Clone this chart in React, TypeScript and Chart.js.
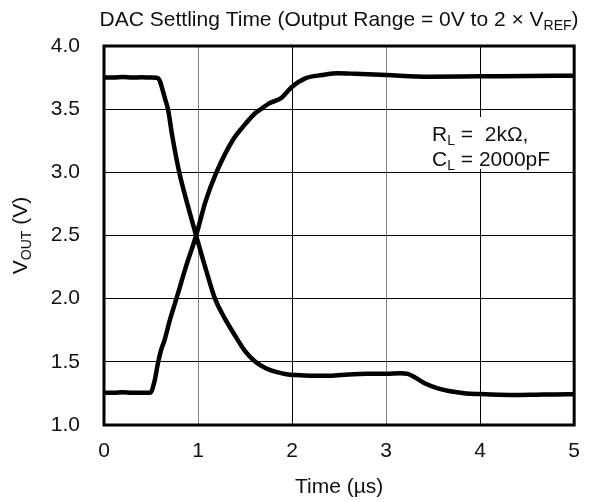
import React, { useEffect, useRef } from "react";
import { Chart, registerables } from "chart.js";

Chart.register(...registerables);

const xTicks = [0, 1, 2, 3, 4, 5];
const yTicks = [1.0, 1.5, 2.0, 2.5, 3.0, 3.5, 4.0];

const timeFall = [0, 0.1, 0.2, 0.3, 0.4, 0.5, 0.56, 0.59, 0.62, 0.65, 0.68, 0.73, 0.8, 0.89, 0.98, 1.08, 1.18, 1.28, 1.4, 1.5, 1.61, 1.72, 1.83, 1.94, 2.04, 2.2, 2.4, 2.6, 2.8, 3.0, 3.15, 3.23, 3.3, 3.41, 3.55, 3.7, 3.85, 4.0, 4.2, 4.4, 4.6, 4.8, 5.0];
const voltFall = [3.75, 3.75, 3.755, 3.75, 3.752, 3.75, 3.748, 3.73, 3.66, 3.58, 3.5, 3.27, 3.0, 2.74, 2.5, 2.24, 2.0, 1.85, 1.7, 1.585, 1.5, 1.45, 1.42, 1.402, 1.395, 1.39, 1.39, 1.4, 1.405, 1.405, 1.41, 1.405, 1.38, 1.33, 1.29, 1.265, 1.25, 1.245, 1.24, 1.238, 1.24, 1.242, 1.243];

const timeRise = [0, 0.1, 0.2, 0.3, 0.4, 0.48, 0.5, 0.54, 0.574, 0.61, 0.644, 0.7, 0.77, 0.87, 0.98, 1.08, 1.19, 1.37, 1.5, 1.61, 1.67, 1.755, 1.88, 2.0, 2.14, 2.32, 2.49, 2.67, 3.0, 3.45, 4.0, 4.5, 5.0];
const voltRise = [1.255, 1.255, 1.26, 1.255, 1.255, 1.255, 1.26, 1.355, 1.49, 1.6, 1.672, 1.83, 2.0, 2.25, 2.5, 2.77, 2.99, 3.256, 3.38, 3.47, 3.5, 3.546, 3.586, 3.678, 3.744, 3.77, 3.784, 3.78, 3.77, 3.757, 3.76, 3.762, 3.765];

const FONT = "'Liberation Sans', Arial, sans-serif";
const FS = 21;

function drawSub(ctx: CanvasRenderingContext2D, parts: [string, boolean][], x: number, y: number, size: number, align: "center" | "left") {
  const subSize = Math.round(size * 0.68);
  let total = 0;
  for (const [t, sub] of parts) {
    ctx.font = `${sub ? subSize : size}px ${FONT}`;
    total += ctx.measureText(t).width;
  }
  let cx = align === "center" ? x - total / 2 : x;
  ctx.textAlign = "left";
  ctx.textBaseline = "alphabetic";
  for (const [t, sub] of parts) {
    ctx.font = `${sub ? subSize : size}px ${FONT}`;
    ctx.fillText(t, cx, sub ? y + size * 0.2 : y);
    cx += ctx.measureText(t).width;
  }
}

const gridMaskPlugin = {
  id: "gridMask",
  beforeDatasetsDraw(chart: any) {
    const { ctx } = chart;
    ctx.save();
    ctx.fillStyle = "#fff";
    ctx.fillRect(428, 117, 128, 52);
    ctx.restore();
  },
};

const decorPlugin = {
  id: "decor",
  afterDraw(chart: any) {
    const { ctx, chartArea } = chart;
    const { left, right, top, bottom } = chartArea;
    ctx.save();
    ctx.strokeStyle = "#000";
    ctx.lineWidth = 3;
    ctx.strokeRect(left, top, right - left, bottom - top);
    ctx.fillStyle = "#111";
    drawSub(ctx, [["DAC Settling Time (Output Range = 0V to 2 × V", false], ["REF", true], [")", false]], (left + right) / 2, 26, FS, "center");
    drawSub(ctx, [["Time (µs)", false]], (left + right) / 2, 493, FS, "center");
    drawSub(ctx, [["R", false], ["L", true], [" =  2kΩ,", false]], 432, 141, FS, "left");
    drawSub(ctx, [["C", false], ["L", true], [" = 2000pF", false]], 432, 166, FS, "left");
    ctx.translate(27, (top + bottom) / 2);
    ctx.rotate(-Math.PI / 2);
    drawSub(ctx, [["V", false], ["OUT", true], [" (V)", false]], 0, 0, FS, "center");
    ctx.restore();
  },
};

export default function App() {
  const ref = useRef<HTMLCanvasElement>(null);
  useEffect(() => {
    if (!ref.current) return;
    const chart = new Chart(ref.current, {
      type: "scatter",
      data: {
        datasets: [
          {
            data: timeFall.map((t, i) => ({ x: t, y: voltFall[i] })),
            showLine: true,
            borderColor: "#000",
            borderWidth: 4.5,
            pointRadius: 0,
            cubicInterpolationMode: "monotone",
          },
          {
            data: timeRise.map((t, i) => ({ x: t, y: voltRise[i] })),
            showLine: true,
            borderColor: "#000",
            borderWidth: 4.5,
            pointRadius: 0,
            cubicInterpolationMode: "monotone",
          },
        ],
      },
      options: {
        animation: false,
        responsive: false,
        layout: { padding: { left: 0, right: 17, top: 46, bottom: 0 } },
        plugins: { legend: { display: false }, tooltip: { enabled: false } },
        scales: {
          x: {
            type: "linear",
            min: 0,
            max: 5,
            afterBuildTicks: (s: any) => { s.ticks = xTicks.map((v) => ({ value: v })); },
            afterFit: (s: any) => { s.height = 77; },
            border: { display: false },
            grid: {
              color: (c: any) => (c.tick && (c.tick.value === 1 || c.tick.value === 3) ? "#808080" : "#000"),
              lineWidth: 1,
              drawTicks: false,
            },
            ticks: { color: "#111", font: { family: FONT, size: FS }, padding: 14, callback: (v: any) => String(v) },
          },
          y: {
            type: "linear",
            min: 1,
            max: 4,
            afterBuildTicks: (s: any) => { s.ticks = yTicks.map((v) => ({ value: v })); },
            afterFit: (s: any) => { s.width = 104; },
            border: { display: false },
            grid: { color: "#000", lineWidth: 1, drawTicks: false },
            ticks: { color: "#111", font: { family: FONT, size: FS }, padding: 24, callback: (v: any) => Number(v).toFixed(1) },
          },
        },
      },
      plugins: [gridMaskPlugin, decorPlugin],
    } as any);
    return () => chart.destroy();
  }, []);
  return (
    <div style={{ position: "fixed", left: 0, top: 0, width: 594, height: 502, background: "#fff" }}>
      <canvas ref={ref} width={594} height={502} style={{ width: 594, height: 502 }} />
    </div>
  );
}
